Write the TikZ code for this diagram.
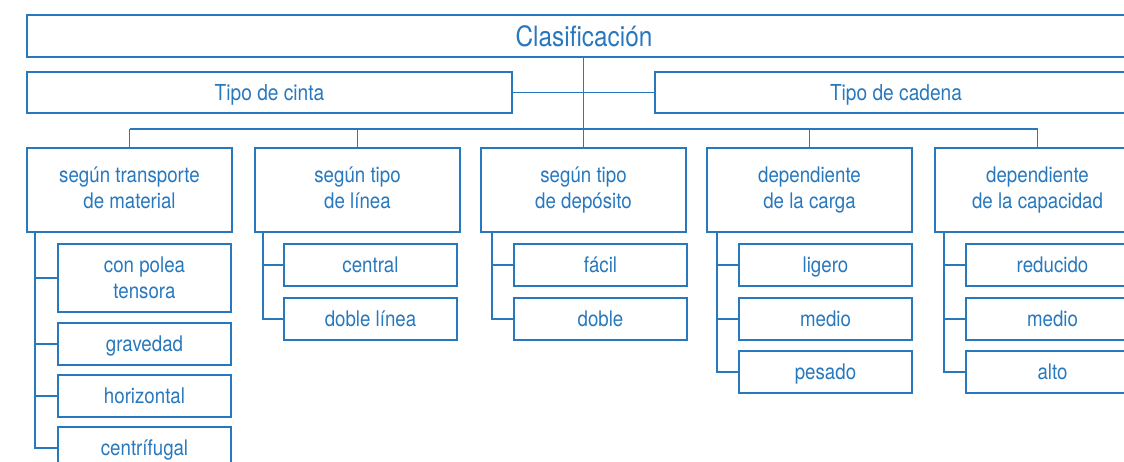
\documentclass[tikz,border=0pt]{standalone}
\usepackage{fontspec}
\setmainfont{TeX Gyre Heros}[FakeStretch=0.87]
\definecolor{bl}{RGB}{40,120,190}
\newcommand\mytop[1]{\rule{0pt}{#1}}
\newcommand\mybot[1]{\rule[-#1]{0pt}{#1}}
\begin{document}
\begin{tikzpicture}[x=1pt,y=-1pt,
 box/.style={draw=bl, line width=1.1pt, text=bl, align=center, inner sep=0pt, outer sep=0pt, anchor=north west},
 big/.style={font=\fontsize{28}{32}\selectfont, text height=22pt, text depth=1pt},
 mid/.style={font=\fontsize{22}{26}\selectfont, text height=17pt, text depth=2pt},
 sm/.style={font=\fontsize{21.5}{26}\selectfont},
 one/.style={text height=17pt, text depth=2pt},
 lvl/.style={box, sm, minimum width=205pt, minimum height=84pt},
 leaf/.style={box, sm, minimum width=173pt, minimum height=42pt},
 link/.style={draw=bl, line width=1.1pt}]
\useasboundingbox (0,0) rectangle (1124,461);
\clip (0,0) rectangle (1124,461);
\node[box,big,minimum width=1114pt,minimum height=42pt] (root) at (27,15) {Clasificación};
\node[box,mid,minimum width=485pt,minimum height=41pt] (t1) at (27,72) {Tipo de cinta};
\node[box,mid,minimum width=482pt,minimum height=41pt] (t2) at (655,72) {Tipo de cadena};
\node[lvl] (b1) at (27,148) {\mytop{18.2pt}según transporte\\de material\mybot{7.8pt}};
\node[lvl] (b2) at (255,148) {\mytop{18.2pt}según tipo\\de línea\mybot{7.8pt}};
\node[lvl] (b3) at (481,148) {\mytop{18.2pt}según tipo\\de depósito\mybot{7.8pt}};
\node[lvl] (b4) at (707,148) {\mytop{18.2pt}dependiente\\de la carga\mybot{7.8pt}};
\node[lvl] (b5) at (935,148) {\mytop{18.2pt}dependiente\\de la capacidad\mybot{7.8pt}};
% leaves
\node[leaf,minimum height=68pt] (c11) at (58,244) {\mytop{20pt}con polea\\tensora\mybot{4.6pt}};
\node[leaf,one] (c12) at (58,323) {gravedad};
\node[leaf,one] (c13) at (58,375) {horizontal};
\node[leaf,one] (c14) at (58,427) {centrífugal};
\node[leaf,one] (c21) at (284,244) {central};
\node[leaf,one] (c22) at (284,298) {doble línea};
\node[leaf,one] (c31) at (514,244) {fácil};
\node[leaf,one] (c32) at (514,298) {doble};
\node[leaf,one] (c41) at (739,244) {ligero};
\node[leaf,one] (c42) at (739,298) {medio};
\node[leaf,one] (c43) at (739,351) {pesado};
\node[leaf,one] (c51) at (966,244) {reducido};
\node[leaf,one] (c52) at (966,298) {medio};
\node[leaf,one] (c53) at (966,351) {alto};
% connectors
\draw[link] (root.south -| b3.north) -- (b3.north);
\draw[link] (t1.east) -- (t2.west);
\coordinate (h) at (0,129);
\draw[link] (h -| b1.north) -- (h -| b5.north);
\foreach \b in {b1,b2,b4,b5} \draw[link] (h -| \b.north) -- (\b.north);
\coordinate (v1) at (35,232);
\coordinate (v2) at (263,232);
\coordinate (v3) at (492,232);
\coordinate (v4) at (717,232);
\coordinate (v5) at (944,232);
\draw[link] (v1) |- (c14.west);
\foreach \c in {c11,c12,c13} \draw[link] (v1 |- \c.west) -- (\c.west);
\draw[link] (v2) |- (c22.west);
\draw[link] (v2 |- c21.west) -- (c21.west);
\draw[link] (v3) |- (c32.west);
\draw[link] (v3 |- c31.west) -- (c31.west);
\draw[link] (v4) |- (c43.west);
\foreach \c in {c41,c42} \draw[link] (v4 |- \c.west) -- (\c.west);
\draw[link] (v5) |- (c53.west);
\foreach \c in {c51,c52} \draw[link] (v5 |- \c.west) -- (\c.west);
\end{tikzpicture}
\end{document}
